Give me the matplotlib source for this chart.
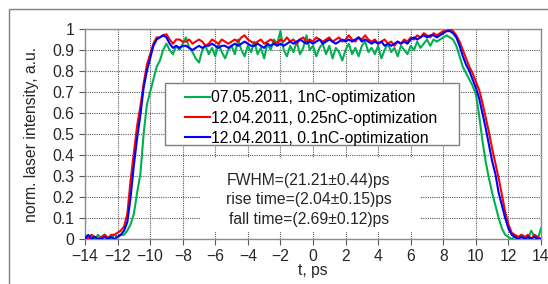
import matplotlib
matplotlib.use("Agg")
import matplotlib.pyplot as plt
from matplotlib.patches import Rectangle
from matplotlib.ticker import FuncFormatter

plt.rcParams['font.family'] = ['Liberation Sans', 'DejaVu Sans']

# time axis, ps (0.2 ps step)
t = [-14.0, -13.8, -13.6, -13.4, -13.2, -13.0, -12.8, -12.6, -12.4, -12.2,
     -12.0, -11.8, -11.6, -11.4, -11.2, -11.0, -10.8, -10.6, -10.4, -10.2,
     -10.0, -9.8, -9.6, -9.4, -9.2, -9.0, -8.8, -8.6, -8.4, -8.2,
     -8.0, -7.8, -7.6, -7.4, -7.2, -7.0, -6.8, -6.6, -6.4, -6.2,
     -6.0, -5.8, -5.6, -5.4, -5.2, -5.0, -4.8, -4.6, -4.4, -4.2,
     -4.0, -3.8, -3.6, -3.4, -3.2, -3.0, -2.8, -2.6, -2.4, -2.2,
     -2.0, -1.8, -1.6, -1.4, -1.2, -1.0, -0.8, -0.6, -0.4, -0.2,
     0.0, 0.2, 0.4, 0.6, 0.8, 1.0, 1.2, 1.4, 1.6, 1.8,
     2.0, 2.2, 2.4, 2.6, 2.8, 3.0, 3.2, 3.4, 3.6, 3.8,
     4.0, 4.2, 4.4, 4.6, 4.8, 5.0, 5.2, 5.4, 5.6, 5.8,
     6.0, 6.2, 6.4, 6.6, 6.8, 7.0, 7.2, 7.4, 7.6, 7.8,
     8.0, 8.2, 8.4, 8.6, 8.8, 9.0, 9.2, 9.4, 9.6, 9.8,
     10.0, 10.2, 10.4, 10.6, 10.8, 11.0, 11.2, 11.4, 11.6, 11.8,
     12.0, 12.2, 12.4, 12.6, 12.8, 13.0, 13.2, 13.4, 13.6, 13.8,
     14.0]

# 07.05.2011, 1nC
green = [0.02, 0.0, 0.01, 0.0, 0.02, 0.0, 0.02, 0.01, 0.0, 0.02,
         0.01, 0.02, 0.02, 0.04, 0.07, 0.12, 0.22, 0.31, 0.5, 0.64,
         0.7, 0.76, 0.82, 0.85, 0.9, 0.93, 0.9, 0.88, 0.92,
         0.9, 0.93, 0.96, 0.91, 0.89, 0.86, 0.84, 0.9, 0.92, 0.88,
         0.91, 0.87, 0.93, 0.89, 0.86, 0.9, 0.92, 0.88, 0.95, 0.9,
         0.87, 0.92, 0.89, 0.94, 0.88, 0.91, 0.86, 0.93, 0.9, 0.95,
         0.93, 0.99, 0.9, 0.87, 0.92, 0.89, 0.94, 0.88, 0.91, 0.97,
         0.9, 0.92, 0.87, 0.91, 0.93, 0.88, 0.92, 0.86, 0.91, 0.89,
         0.85, 0.9, 0.93, 0.88, 0.91, 0.87, 0.92, 0.94, 0.89, 0.91,
         0.88, 0.92, 0.86, 0.9, 0.93, 0.89, 0.91, 0.87, 0.92, 0.9,
         0.88, 0.92, 0.9, 0.94, 0.91, 0.93, 0.95, 0.92, 0.95,
         0.94, 0.95, 0.96, 0.97, 0.96, 0.95, 0.92, 0.87, 0.82, 0.79,
         0.76, 0.73, 0.69, 0.59, 0.47, 0.37, 0.29, 0.22, 0.16, 0.1,
         0.05, 0.02, 0.01, 0.0, 0.01, 0.0, 0.02, 0.01, 0.0, 0.04,
         0.01, 0.0, 0.05]

# 12.04.2011, 0.25nC
red = [0.01, 0.0, 0.02, 0.01, 0.0, 0.01, 0.02, 0.0, 0.02, 0.02,
       0.03, 0.04, 0.06, 0.12, 0.28, 0.41, 0.54, 0.63, 0.74, 0.83,
       0.88, 0.93, 0.96, 0.96, 0.97, 0.975, 0.95, 0.93, 0.95,
       0.95, 0.94, 0.94, 0.95, 0.93, 0.94, 0.95, 0.94, 0.92, 0.93,
       0.95, 0.94, 0.93, 0.95, 0.94, 0.93, 0.94, 0.95, 0.94, 0.96,
       0.97, 0.95, 0.94, 0.93, 0.94, 0.95, 0.93, 0.94, 0.95, 0.94,
       0.93, 0.95, 0.94, 0.96, 0.94, 0.95, 0.93, 0.95, 0.96, 0.94,
       0.95, 0.94, 0.96, 0.95, 0.94, 0.95, 0.96, 0.94, 0.95, 0.96,
       0.94, 0.95, 0.97, 0.95, 0.94, 0.96, 0.95, 0.97, 0.95, 0.94,
       0.95, 0.93, 0.94, 0.95, 0.93, 0.94, 0.92, 0.94, 0.93, 0.95,
       0.94, 0.96, 0.95, 0.97, 0.96, 0.98, 0.97, 0.96, 0.98,
       0.97, 0.98, 0.99, 0.99, 1.0, 0.99, 0.97, 0.94, 0.9, 0.86,
       0.82, 0.79, 0.75, 0.71, 0.65, 0.58, 0.51, 0.43, 0.36, 0.29,
       0.21, 0.13, 0.07, 0.03, 0.02, 0.01, 0.02, 0.01, 0.02, 0.0,
       0.02, 0.01, 0.0]

# 12.04.2011, 0.1nC
blue = [0.0, 0.02, 0.0, 0.01, 0.0, 0.0, 0.01, 0.0, 0.01, 0.0,
        0.01, 0.02, 0.04, 0.08, 0.2, 0.35, 0.48, 0.59, 0.72, 0.8,
        0.86, 0.92, 0.95, 0.96, 0.97, 0.96, 0.93, 0.91, 0.92,
        0.91, 0.92, 0.92, 0.91, 0.9, 0.91, 0.92, 0.91, 0.92, 0.92,
        0.93, 0.92, 0.91, 0.92, 0.92, 0.91, 0.92, 0.93, 0.92, 0.93,
        0.94, 0.93, 0.92, 0.92, 0.93, 0.92, 0.91, 0.93, 0.92, 0.93,
        0.92, 0.93, 0.92, 0.93, 0.94, 0.93, 0.94, 0.95, 0.94, 0.93,
        0.94, 0.93, 0.94, 0.95, 0.93, 0.94, 0.95, 0.94, 0.93, 0.94,
        0.95, 0.94, 0.95, 0.94, 0.95, 0.96, 0.94, 0.95, 0.94, 0.93,
        0.94, 0.93, 0.94, 0.92, 0.93, 0.92, 0.93, 0.94, 0.93, 0.94,
        0.93, 0.95, 0.96, 0.95, 0.96, 0.97, 0.96, 0.97, 0.97,
        0.96, 0.97, 0.98, 0.99, 0.99, 0.98, 0.96, 0.92, 0.87, 0.83,
        0.8, 0.76, 0.72, 0.67, 0.6, 0.53, 0.45, 0.37, 0.31, 0.22,
        0.16, 0.1, 0.05, 0.02, 0.01, 0.0, 0.01, 0.0, 0.01, 0.0,
        0.01, 0.0, 0.0]

labels = ['07.05.2011, 1nC-optimization',
          '12.04.2011, 0.25nC-optimization',
          '12.04.2011, 0.1nC-optimization']
colors = ['#00b050', '#ff0000', '#0000ff']

x_ticks = [-14, -12, -10, -8, -6, -4, -2, 0, 2, 4, 6, 8, 10, 12, 14]
y_ticks = [0, 0.1, 0.2, 0.3, 0.4, 0.5, 0.6, 0.7, 0.8, 0.9, 1.0]

info_lines = ['FWHM=(21.21±0.44)ps', 'rise time=(2.04±0.15)ps',
              'fall time=(2.69±0.12)ps']

FS = 11.3
TXT = '#262626'

fig = plt.figure(figsize=(5.48, 2.84), dpi=100)
ax = fig.add_axes([85 / 548, 1 - 239 / 284, 456 / 548, 210 / 284])

# outer chart frame (only top and left edges fall inside the image)
fig.patches.append(Rectangle((9 / 548, -0.5), 2.0, 1.5 - 9 / 284,
                             transform=fig.transFigure, fill=False,
                             edgecolor='#7f7f7f', lw=1.0))

handles = []
for y, c, lab in zip([green, red, blue], colors, labels):
    h, = ax.plot(t, y, color=c, lw=1.5, label=lab, zorder=3)
    handles.append(h)

ax.set_xlim(-14, 14)
ax.set_ylim(0, 1)
ax.set_xticks(x_ticks)
ax.set_yticks(y_ticks)
ax.yaxis.set_major_formatter(FuncFormatter(lambda v, p: f'{v:g}'))
ax.tick_params(labelsize=FS, colors='#595959', labelcolor=TXT,
               length=4, width=0.8, direction='out')
ax.grid(True, color='#5a5a5a', lw=0.8, linestyle=(0, (1, 1)))
ax.set_axisbelow(True)
for s in ax.spines.values():
    s.set_color('#8c8c8c')
    s.set_linewidth(1.0)

ax.set_ylabel('norm. laser intensity, a.u.', fontsize=FS, color=TXT)
ax.set_xlabel('t, ps', fontsize=FS, color=TXT)
ax.yaxis.set_label_coords(-0.10, 0.5)
ax.xaxis.set_label_coords(0.5, -0.115)

# legend frame and entries
ax.add_patch(Rectangle((0.175, 0.448), 0.645, 0.295, transform=ax.transAxes,
                       facecolor='white', edgecolor='#7f7f7f', lw=1.0, zorder=4))
ax.legend(handles=handles, loc='upper left', bbox_to_anchor=(0.21, 0.73),
          frameon=False, fontsize=FS, handlelength=1.55, handletextpad=0.1,
          labelspacing=0.33, borderpad=0.3, borderaxespad=0)

# statistics box
ax.add_patch(Rectangle((-6.94, 0.035), 13.5, 0.35, facecolor='white',
                       edgecolor='none', zorder=2))
for line, yv in zip(info_lines, [0.278, 0.186, 0.094]):
    ax.text(-0.25, yv, line, ha='center', va='center', fontsize=FS,
            color=TXT, zorder=5)

fig.savefig('out.png', dpi=100)
